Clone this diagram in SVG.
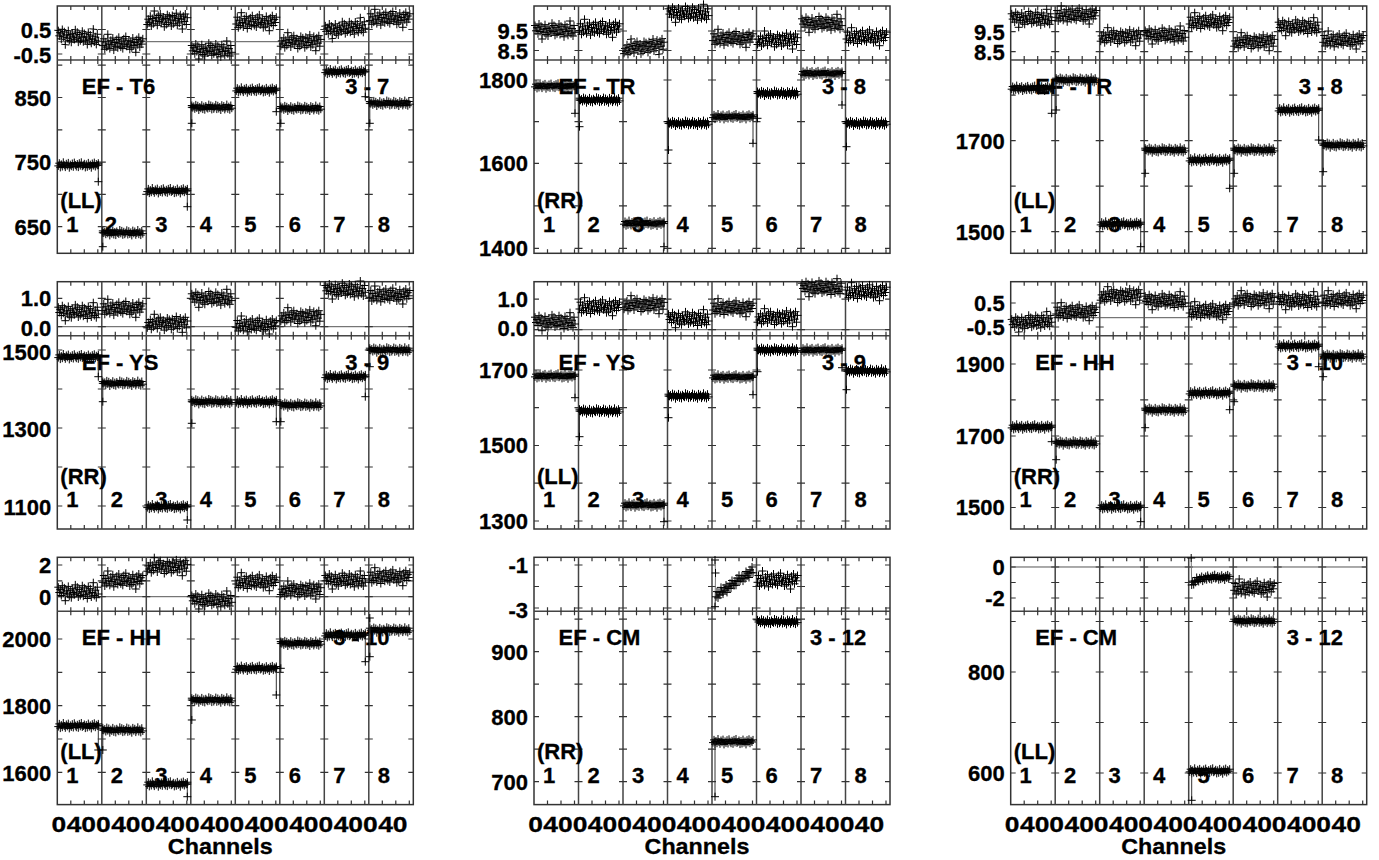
<svg xmlns="http://www.w3.org/2000/svg" width="1379" height="860" viewBox="0 0 1379 860">
<style>
.t{font-family:"Liberation Sans",Arial,sans-serif;font-weight:bold;font-size:22px;fill:#000;stroke:#000;stroke-width:0.3}
.r{text-anchor:end}
.m{text-anchor:middle}
.d{fill:none;stroke:#777;stroke-width:1;marker-start:url(#mk);marker-mid:url(#mk);marker-end:url(#mk)}
.e{fill:none;stroke:#333;stroke-width:1;marker-start:url(#mk);marker-mid:url(#mk);marker-end:url(#mk)}
.z{fill:none;stroke:#555;stroke-width:1}
.fr{fill:none;stroke:#333;stroke-width:1.5}
.dv{fill:none;stroke:#444;stroke-width:1.5}
.tk{fill:none;stroke:#333;stroke-width:1.2}
</style>
<defs>
<marker id="mk" markerUnits="userSpaceOnUse" markerWidth="9" markerHeight="9" refX="4" refY="4" overflow="visible"><path d="M0 4h8M4 0v8" stroke="#000" stroke-width="1" fill="none"/></marker>
<polyline id="A" class="d" points="1,0.9 2,-1.8 3,2.4 4,-0.6 5,1.5 6,-2.7 7,0.3 8,2.1 9,-1.2 10,0.6 11,-2.1 12,2.7 13,-0.3 14,1.2 15,-1.5 16,1.8 17,-2.4 18,0 19,1.5 20,-0.9 21,2.1 22,-1.8 23,0.6 24,-2.7 25,1.2 26,0.3 27,-1.2 28,2.4 29,-0.6 30,1.8 31,-2.1 32,0.9 33,-0.3 34,2.7 35,-1.5 36,0.6 37,-2.4 38,1.5 39,-0.9 40,0.3 41,-1.8"/>
<use id="B" href="#A" transform="matrix(-1 0 0 1 42 0)"/>
<polyline id="P" class="d" points="1,-4.5 2,0.8 3,-2.3 4,3.8 5,-6 6,1.5 7,-3.8 8,9 9,-0.8 10,2.3 11,-5.3 12,4.5 13,-1.5 14,6 15,-3 16,0.8 17,3 18,-6.8 19,1.5 20,-4.5 21,5.3 22,-2.3 23,3.8 24,0 25,-6 26,4.5 27,-3.8 28,3 29,-0.8 30,6.8 31,-5.3 32,1.5 33,-3 34,5.3 35,0.8 36,-9 37,3.8 38,-1.5 39,6 40,-4.5 41,2.3"/>
<use id="Q" href="#P" transform="matrix(-1 0 0 1 42 0)"/>
<use id="R" href="#P" transform="matrix(1 0 0 -1 0 0)"/>
<path id="yt" class="tk" d="M0 0h5M40.5 0h8M85 0h8M129.5 0h8M174 0h8M218.5 0h8M263 0h8M307.5 0h8M351 0h5"/>
<g id="fr">
<rect class="fr" x="0" y="0" width="356" height="247.3"/>
<path class="dv" d="M0 54H356M44.5 0V247.3M89 0V247.3M133.5 0V247.3M178 0V247.3M222.5 0V247.3M267 0V247.3M311.5 0V247.3"/>
<path class="tk" d="M13.5 0v4M13.5 50v8M13.5 243.3v4M27 0v4M27 50v8M27 243.3v4M40.5 0v4M40.5 50v8M40.5 243.3v4M58 0v4M58 50v8M58 243.3v4M71.5 0v4M71.5 50v8M71.5 243.3v4M85 0v4M85 50v8M85 243.3v4M102.5 0v4M102.5 50v8M102.5 243.3v4M116 0v4M116 50v8M116 243.3v4M129.5 0v4M129.5 50v8M129.5 243.3v4M147 0v4M147 50v8M147 243.3v4M160.5 0v4M160.5 50v8M160.5 243.3v4M174 0v4M174 50v8M174 243.3v4M191.5 0v4M191.5 50v8M191.5 243.3v4M205 0v4M205 50v8M205 243.3v4M218.5 0v4M218.5 50v8M218.5 243.3v4M236 0v4M236 50v8M236 243.3v4M249.5 0v4M249.5 50v8M249.5 243.3v4M263 0v4M263 50v8M263 243.3v4M280.5 0v4M280.5 50v8M280.5 243.3v4M294 0v4M294 50v8M294 243.3v4M307.5 0v4M307.5 50v8M307.5 243.3v4M325 0v4M325 50v8M325 243.3v4M338.5 0v4M338.5 50v8M338.5 243.3v4M352 0v4M352 50v8M352 243.3v4"/>
</g>
</defs>
<rect width="1379" height="860" fill="#fff"/>

<!-- Panel 1 -->
<g id="p1-ef-t6-ll" transform="translate(57.3,6)">
<use href="#fr"/>
<path class="z" d="M0 35.7H356"/>
<use href="#yt" y="23.5"/><use href="#yt" y="48"/>
<use href="#yt" y="59.2"/><use href="#yt" y="91.5"/><use href="#yt" y="123.8"/><use href="#yt" y="156.1"/><use href="#yt" y="188.4"/><use href="#yt" y="220.7"/>
<text class="t r" x="-6" y="32">0.5</text>
<text class="t r" x="-6" y="57">-0.5</text>
<text class="t r" x="-6" y="99.5">850</text>
<text class="t r" x="-6" y="164">750</text>
<text class="t r" x="-6" y="228.7">650</text>
<text class="t" x="24.5" y="88">EF - T6</text>
<text class="t" x="288" y="88">3 - 7</text>
<text class="t" x="3" y="202">(LL)</text>
<text class="t m" y="225.7"><tspan x="15">1</tspan><tspan x="53.5">2</tspan><tspan x="104">3</tspan><tspan x="148.5">4</tspan><tspan x="193">5</tspan><tspan x="237.5">6</tspan><tspan x="282">7</tspan><tspan x="326.5">8</tspan></text>
<g class="data">
<use href="#P" transform="translate(0,29) skewY(5)"/>
<use href="#Q" x="44.5" y="37.3"/>
<use href="#R" x="89" y="14"/>
<use href="#P" x="133.5" y="44"/>
<use href="#Q" x="178" y="15.7"/>
<use href="#R" x="222.5" y="35.7"/>
<use href="#P" transform="translate(267,24.5) skewY(-6)"/>
<use href="#Q" x="311.5" y="12.3"/>
<use href="#A" x="0" y="159"/>
<use href="#B" x="44.5" y="226.7"/>
<use href="#A" x="89" y="184.7"/>
<use href="#B" x="133.5" y="101.3"/>
<use href="#A" x="178" y="84"/>
<use href="#B" x="222.5" y="102.3"/>
<use href="#A" x="267" y="65.7"/>
<use href="#B" x="311.5" y="97.3"/>
<path class="e" d="M41 159V175.7M45.5 240.7V226.7M130 184.7V200.7M134.5 117.3V101.3M219 84V105.7M223.5 117.3V102.3M308 65.7V90.7M312.5 117.3V97.3"/>
</g>
</g>

<!-- Panel 2 -->
<g id="p2-ef-tr-rr" transform="translate(534,6)">
<use href="#fr"/>
<use href="#yt" y="25"/><use href="#yt" y="44.5"/>
<use href="#yt" y="74"/><use href="#yt" y="115.6"/><use href="#yt" y="157.3"/><use href="#yt" y="199.8"/><use href="#yt" y="242.3"/>
<text class="t r" x="-6" y="33">9.5</text>
<text class="t r" x="-6" y="52.5">8.5</text>
<text class="t r" x="-6" y="82">1800</text>
<text class="t r" x="-6" y="165.3">1600</text>
<text class="t r" x="-6" y="250.3">1400</text>
<text class="t" x="24.5" y="88">EF - TR</text>
<text class="t" x="288" y="88">3 - 8</text>
<text class="t" x="3" y="202">(RR)</text>
<text class="t m" y="225.7"><tspan x="15">1</tspan><tspan x="59.5">2</tspan><tspan x="104">3</tspan><tspan x="148.5">4</tspan><tspan x="193">5</tspan><tspan x="237.5">6</tspan><tspan x="282">7</tspan><tspan x="326.5">8</tspan></text>
<g class="data">
<use href="#P" x="0" y="24"/>
<use href="#Q" x="44.5" y="22.3"/>
<use href="#R" transform="translate(89,43) skewY(-6)"/>
<use href="#P" x="133.5" y="7.3"/>
<use href="#Q" x="178" y="32.3"/>
<use href="#R" x="222.5" y="34"/>
<use href="#P" x="267" y="17.3"/>
<use href="#Q" x="311.5" y="30.7"/>
<use href="#A" x="0" y="80"/>
<use href="#B" x="44.5" y="94"/>
<use href="#A" x="89" y="217.3"/>
<use href="#B" x="133.5" y="117.3"/>
<use href="#A" x="178" y="110.7"/>
<use href="#B" x="222.5" y="87.3"/>
<use href="#A" x="267" y="67.3"/>
<use href="#B" x="311.5" y="117.3"/>
<path class="e" d="M41 80V107.3M45.5 120.7V94M130 217.3V240.7M134.5 144V117.3M219 110.7V137.3M223.5 112.3V87.3M308 67.3V99M312.5 140.7V117.3"/>
</g>
</g>

<!-- Panel 3 -->
<g id="p3-ef-tr-ll" transform="translate(1010.7,6)">
<use href="#fr"/>
<use href="#yt" y="25.7"/><use href="#yt" y="45.7"/>
<use href="#yt" y="89.2"/><use href="#yt" y="134.7"/><use href="#yt" y="180.2"/><use href="#yt" y="225.7"/>
<text class="t r" x="-6" y="33.7">9.5</text>
<text class="t r" x="-6" y="53.7">8.5</text>
<text class="t r" x="-6" y="142.7">1700</text>
<text class="t r" x="-6" y="233.7">1500</text>
<text class="t" x="24.5" y="88">EF - TR</text>
<text class="t" x="288" y="88">3 - 8</text>
<text class="t" x="3" y="202">(LL)</text>
<text class="t m" y="225.7"><tspan x="15">1</tspan><tspan x="59.5">2</tspan><tspan x="104">3</tspan><tspan x="148.5">4</tspan><tspan x="193">5</tspan><tspan x="237.5">6</tspan><tspan x="282">7</tspan><tspan x="326.5">8</tspan></text>
<g class="data">
<use href="#P" x="0" y="12.3"/>
<use href="#Q" x="44.5" y="9"/>
<use href="#R" x="89" y="30.7"/>
<use href="#P" x="133.5" y="29"/>
<use href="#Q" x="178" y="15.7"/>
<use href="#R" x="222.5" y="35.7"/>
<use href="#P" x="267" y="20.7"/>
<use href="#Q" x="311.5" y="34"/>
<use href="#A" x="0" y="82.3"/>
<use href="#B" x="44.5" y="74"/>
<use href="#A" x="89" y="218"/>
<use href="#B" x="133.5" y="144"/>
<use href="#A" x="178" y="154"/>
<use href="#B" x="222.5" y="144"/>
<use href="#A" x="267" y="104"/>
<use href="#B" x="311.5" y="139"/>
<path class="e" d="M41 82.3V107.3M45.5 104V74M130 218V240.7M134.5 167.3V144M219 154V182.3M223.5 167.3V144M308 104V134M312.5 165.7V139"/>
</g>
</g>

<!-- Panel 4 -->
<g id="p4-ef-ys-rr" transform="translate(57.3,281.7)">
<use href="#fr"/>
<path class="z" d="M0 45H356"/>
<use href="#yt" y="16.6"/><use href="#yt" y="45"/>
<use href="#yt" y="68.3"/><use href="#yt" y="107.3"/><use href="#yt" y="146.3"/><use href="#yt" y="185.3"/><use href="#yt" y="224.3"/>
<text class="t r" x="-6" y="24.6">1.0</text>
<text class="t r" x="-6" y="54.6">0.0</text>
<text class="t r" x="-6" y="78">1500</text>
<text class="t r" x="-6" y="155.6">1300</text>
<text class="t r" x="-6" y="233">1100</text>
<text class="t" x="24.5" y="88">EF - YS</text>
<text class="t" x="288" y="88">3 - 9</text>
<text class="t" x="3" y="202">(RR)</text>
<text class="t m" y="225.7"><tspan x="15">1</tspan><tspan x="59.5">2</tspan><tspan x="104">3</tspan><tspan x="148.5">4</tspan><tspan x="193">5</tspan><tspan x="237.5">6</tspan><tspan x="282">7</tspan><tspan x="326.5">8</tspan></text>
<g class="data">
<use href="#P" x="0" y="30"/>
<use href="#Q" x="44.5" y="26.6"/>
<use href="#R" x="89" y="41.6"/>
<use href="#P" x="133.5" y="16.6"/>
<use href="#Q" x="178" y="43.3"/>
<use href="#R" x="222.5" y="35"/>
<use href="#P" x="267" y="8.3"/>
<use href="#Q" x="311.5" y="13.3"/>
<use href="#A" x="0" y="75"/>
<use href="#B" x="44.5" y="101.6"/>
<use href="#A" x="89" y="225"/>
<use href="#B" x="133.5" y="120"/>
<use href="#A" x="178" y="120"/>
<use href="#B" x="222.5" y="123.3"/>
<use href="#A" x="267" y="95"/>
<use href="#B" x="311.5" y="68.3"/>
<path class="e" d="M41 75V95M45.5 120V101.6M130 225V238.3M134.5 141.6V120M219 120V140M223.5 140V123.3M308 95V115M312.5 85V68.3"/>
</g>
</g>

<!-- Panel 5 -->
<g id="p5-ef-ys-ll" transform="translate(534,281.7)">
<use href="#fr"/>
<path class="z" d="M0 48H356"/>
<use href="#yt" y="17.5"/><use href="#yt" y="48"/>
<use href="#yt" y="88.3"/><use href="#yt" y="126"/><use href="#yt" y="163.8"/><use href="#yt" y="201.5"/><use href="#yt" y="239.3"/>
<text class="t r" x="-6" y="25">1.0</text>
<text class="t r" x="-6" y="54">0.0</text>
<text class="t r" x="-6" y="96.3">1700</text>
<text class="t r" x="-6" y="171.8">1500</text>
<text class="t r" x="-6" y="247.3">1300</text>
<text class="t" x="24.5" y="88">EF - YS</text>
<text class="t" x="288" y="88">3 - 9</text>
<text class="t" x="3" y="202">(LL)</text>
<text class="t m" y="225.7"><tspan x="15">1</tspan><tspan x="59.5">2</tspan><tspan x="104">3</tspan><tspan x="148.5">4</tspan><tspan x="193">5</tspan><tspan x="237.5">6</tspan><tspan x="282">7</tspan><tspan x="326.5">8</tspan></text>
<g class="data">
<use href="#P" x="0" y="40"/>
<use href="#Q" x="44.5" y="25"/>
<use href="#R" x="89" y="23"/>
<use href="#P" x="133.5" y="37"/>
<use href="#Q" x="178" y="26"/>
<use href="#R" x="222.5" y="36"/>
<use href="#P" x="267" y="6"/>
<use href="#Q" x="311.5" y="10"/>
<use href="#A" x="0" y="94.3"/>
<use href="#B" x="44.5" y="129.3"/>
<use href="#A" x="89" y="223.3"/>
<use href="#B" x="133.5" y="114.3"/>
<use href="#A" x="178" y="95.3"/>
<use href="#B" x="222.5" y="68.3"/>
<use href="#A" x="267" y="68.3"/>
<use href="#B" x="311.5" y="89.3"/>
<path class="e" d="M41 94.3V116M45.5 155V129.3M130 223.3V240M134.5 136V114.3M219 95.3V113M223.5 90V68.3M308 68.3V86M312.5 108V89.3"/>
</g>
</g>

<!-- Panel 6 -->
<g id="p6-ef-hh-rr" transform="translate(1010.7,281.7)">
<use href="#fr"/>
<path class="z" d="M0 36H356"/>
<use href="#yt" y="21.3"/><use href="#yt" y="45.3"/>
<use href="#yt" y="82.3"/><use href="#yt" y="118.1"/><use href="#yt" y="154.3"/><use href="#yt" y="190"/><use href="#yt" y="225.8"/>
<text class="t r" x="-6" y="29.3">0.5</text>
<text class="t r" x="-6" y="53.3">-0.5</text>
<text class="t r" x="-6" y="90.3">1900</text>
<text class="t r" x="-6" y="162.3">1700</text>
<text class="t r" x="-6" y="233.8">1500</text>
<text class="t" x="24.5" y="88">EF - HH</text>
<text class="t" x="276" y="88">3 - 10</text>
<text class="t" x="3" y="202">(RR)</text>
<text class="t m" y="225.7"><tspan x="15">1</tspan><tspan x="59.5">2</tspan><tspan x="104">3</tspan><tspan x="148.5">4</tspan><tspan x="193">5</tspan><tspan x="237.5">6</tspan><tspan x="282">7</tspan><tspan x="326.5">8</tspan></text>
<g class="data">
<use href="#P" transform="translate(0,42) skewY(-5)"/>
<use href="#Q" x="44.5" y="30"/>
<use href="#R" x="89" y="14"/>
<use href="#P" x="133.5" y="19"/>
<use href="#Q" x="178" y="29"/>
<use href="#R" x="222.5" y="18"/>
<use href="#P" x="267" y="19"/>
<use href="#Q" x="311.5" y="18"/>
<use href="#A" x="0" y="145.3"/>
<use href="#B" x="44.5" y="161.3"/>
<use href="#A" x="89" y="225.3"/>
<use href="#B" x="133.5" y="128.3"/>
<use href="#A" x="178" y="111.3"/>
<use href="#B" x="222.5" y="104.3"/>
<use href="#A" x="267" y="64.3"/>
<use href="#B" x="311.5" y="74.3"/>
<path class="e" d="M41 145.3V160M45.5 178V161.3M130 225.3V240M134.5 146V128.3M219 111.3V128M223.5 120V104.3M308 64.3V85M312.5 95V74.3"/>
</g>
</g>

<!-- Panel 7 -->
<g id="p7-ef-hh-ll" transform="translate(57.3,557.3)">
<use href="#fr"/>
<path class="z" d="M0 39.4H356"/>
<use href="#yt" y="7.7"/><use href="#yt" y="23.5"/><use href="#yt" y="39.4"/>
<use href="#yt" y="81.7"/><use href="#yt" y="115"/><use href="#yt" y="148.4"/><use href="#yt" y="181.7"/><use href="#yt" y="215"/>
<text class="t r" x="-6" y="15.7">2</text>
<text class="t r" x="-6" y="48">0</text>
<text class="t r" x="-6" y="89.7">2000</text>
<text class="t r" x="-6" y="156.4">1800</text>
<text class="t r" x="-6" y="224">1600</text>
<text class="t" x="24.5" y="88">EF - HH</text>
<text class="t" x="276" y="88">3 - 10</text>
<text class="t" x="3" y="202">(LL)</text>
<text class="t m" y="225.7"><tspan x="15">1</tspan><tspan x="59.5">2</tspan><tspan x="104">3</tspan><tspan x="148.5">4</tspan><tspan x="193">5</tspan><tspan x="237.5">6</tspan><tspan x="282">7</tspan><tspan x="326.5">8</tspan></text>
<g class="data">
<use href="#P" x="0" y="34.4"/>
<use href="#Q" x="44.5" y="22.7"/>
<use href="#R" x="89" y="9.4"/>
<use href="#P" x="133.5" y="42.7"/>
<use href="#Q" x="178" y="24.4"/>
<use href="#R" x="222.5" y="32.7"/>
<use href="#P" x="267" y="22.7"/>
<use href="#Q" x="311.5" y="19.4"/>
<use href="#A" x="0" y="168.4"/>
<use href="#B" x="44.5" y="172.7"/>
<use href="#A" x="89" y="226.7"/>
<use href="#B" x="133.5" y="142.7"/>
<use href="#A" x="178" y="111"/>
<use href="#B" x="222.5" y="86"/>
<use href="#A" x="267" y="77.7"/>
<use href="#B" x="311.5" y="72.7"/>
<path class="e" d="M41 168.4V192.7M45.5 192.7V172.7M130 226.7V239.4M134.5 162.7V142.7M219 111V137.7M223.5 111V86M308 77.7V104.4M312.5 99.4V60.7"/>
</g>
<g class="ticklabels">
<text class="t m" transform="translate(1.5,274.7) scale(1.2,1)">0</text><text class="t m" transform="translate(24,274.7) scale(1.2,1)">40</text>
<text class="t m" transform="translate(46,274.7) scale(1.2,1)">0</text><text class="t m" transform="translate(68.5,274.7) scale(1.2,1)">40</text>
<text class="t m" transform="translate(90.5,274.7) scale(1.2,1)">0</text><text class="t m" transform="translate(113,274.7) scale(1.2,1)">40</text>
<text class="t m" transform="translate(135,274.7) scale(1.2,1)">0</text><text class="t m" transform="translate(157.5,274.7) scale(1.2,1)">40</text>
<text class="t m" transform="translate(179.5,274.7) scale(1.2,1)">0</text><text class="t m" transform="translate(202,274.7) scale(1.2,1)">40</text>
<text class="t m" transform="translate(224,274.7) scale(1.2,1)">0</text><text class="t m" transform="translate(246.5,274.7) scale(1.2,1)">40</text>
<text class="t m" transform="translate(268.5,274.7) scale(1.2,1)">0</text><text class="t m" transform="translate(291,274.7) scale(1.2,1)">40</text>
<text class="t m" transform="translate(313,274.7) scale(1.2,1)">0</text><text class="t m" transform="translate(335.5,274.7) scale(1.2,1)">40</text>
</g>
<text class="t m" transform="translate(163,296.5) scale(1.06,1)">Channels</text>
</g>

<!-- Panel 8 -->
<g id="p8-ef-cm-rr" transform="translate(534,557.3)">
<use href="#fr"/>
<use href="#yt" y="7.7"/><use href="#yt" y="29.2"/><use href="#yt" y="50.7"/>
<use href="#yt" y="61.9"/><use href="#yt" y="94.4"/><use href="#yt" y="126.9"/><use href="#yt" y="159.4"/><use href="#yt" y="191.9"/><use href="#yt" y="224.4"/>
<text class="t r" x="-6" y="15.7">-1</text>
<text class="t r" x="-6" y="60.7">-3</text>
<text class="t r" x="-6" y="102.4">900</text>
<text class="t r" x="-6" y="167.4">800</text>
<text class="t r" x="-6" y="232.4">700</text>
<text class="t" x="24.5" y="88">EF - CM</text>
<text class="t" x="276" y="88">3 - 12</text>
<text class="t" x="3" y="202">(RR)</text>
<text class="t m" y="225.7"><tspan x="15">1</tspan><tspan x="59.5">2</tspan><tspan x="104">3</tspan><tspan x="148.5">4</tspan><tspan x="193">5</tspan><tspan x="237.5">6</tspan><tspan x="282">7</tspan><tspan x="326.5">8</tspan></text>
<g class="data">
<polyline class="d" points="181,2.7 181.5,15.7 181,49.4 182,39.5 183,34.3 184,40.6 185,35 186,37.8 187,30.1 188,34.4 189,36.8 190,30.6 191,32.9 192,27.7 193,35.1 194,29.4 195,31.2 196,26 197,30.9 198,23.2 199,26.5 200,28.3 201,23.7 202,28 203,20.8 204,24.1 205,18 206,23.8 207,21.6 208,18.4 209,23.8 210,18.1 211,21.4 212,14.2 213,18.6 214,15.9 215,20.2 216,12.5 217,15.4 218,9.7 219,15.5"/>
<use href="#Q" x="222.5" y="22.7"/>
<use href="#A" x="178" y="184.4"/>
<use href="#B" x="222.5" y="64.4"/>
<path class="e" d="M181 239.4V184.4"/>
</g>
<g class="ticklabels">
<text class="t m" transform="translate(1.5,274.7) scale(1.2,1)">0</text><text class="t m" transform="translate(24,274.7) scale(1.2,1)">40</text>
<text class="t m" transform="translate(46,274.7) scale(1.2,1)">0</text><text class="t m" transform="translate(68.5,274.7) scale(1.2,1)">40</text>
<text class="t m" transform="translate(90.5,274.7) scale(1.2,1)">0</text><text class="t m" transform="translate(113,274.7) scale(1.2,1)">40</text>
<text class="t m" transform="translate(135,274.7) scale(1.2,1)">0</text><text class="t m" transform="translate(157.5,274.7) scale(1.2,1)">40</text>
<text class="t m" transform="translate(179.5,274.7) scale(1.2,1)">0</text><text class="t m" transform="translate(202,274.7) scale(1.2,1)">40</text>
<text class="t m" transform="translate(224,274.7) scale(1.2,1)">0</text><text class="t m" transform="translate(246.5,274.7) scale(1.2,1)">40</text>
<text class="t m" transform="translate(268.5,274.7) scale(1.2,1)">0</text><text class="t m" transform="translate(291,274.7) scale(1.2,1)">40</text>
<text class="t m" transform="translate(313,274.7) scale(1.2,1)">0</text><text class="t m" transform="translate(335.5,274.7) scale(1.2,1)">40</text>
</g>
<text class="t m" transform="translate(163,296.5) scale(1.06,1)">Channels</text>
</g>

<!-- Panel 9 -->
<g id="p9-ef-cm-ll" transform="translate(1010.7,557.3)">
<use href="#fr"/>
<path class="z" d="M0 9.7H356"/>
<use href="#yt" y="9.7"/><use href="#yt" y="25.2"/><use href="#yt" y="40.7"/>
<use href="#yt" y="64.2"/><use href="#yt" y="114.7"/><use href="#yt" y="165.2"/><use href="#yt" y="215.7"/>
<text class="t r" x="-6" y="17.7">0</text>
<text class="t r" x="-6" y="48.7">-2</text>
<text class="t r" x="-6" y="122.7">800</text>
<text class="t r" x="-6" y="223.7">600</text>
<text class="t" x="24.5" y="88">EF - CM</text>
<text class="t" x="276" y="88">3 - 12</text>
<text class="t" x="3" y="202">(LL)</text>
<text class="t m" y="225.7"><tspan x="15">1</tspan><tspan x="59.5">2</tspan><tspan x="104">3</tspan><tspan x="148.5">4</tspan><tspan x="193">5</tspan><tspan x="237.5">6</tspan><tspan x="282">7</tspan><tspan x="326.5">8</tspan></text>
<g class="data">
<polyline class="d" points="180.5,0.7 181,27.7 182,23.9 183,27.3 184,23.5 185,25 186,20.2 187,22.8 188,24.2 189,20.6 190,22.1 191,19.2 192,23.8 193,20.6 194,22 195,19.2 196,22.4 197,18.1 198,20.4 199,21.8 200,19.4 201,22.3 202,18.4 203,20.8 204,17.4 205,21.3 206,20.4 207,18.8 208,22.4 209,19.4 210,21.8 211,17.9 212,20.9 213,19.7 214,22.7 215,18.5 216,20.6 217,17.6 218,21.5 219,19.1"/>
<use href="#Q" x="222.5" y="30.7"/>
<use href="#A" x="178" y="213.7"/>
<use href="#B" x="222.5" y="63.7"/>
<path class="e" d="M181 243V213.7"/>
</g>
<g class="ticklabels">
<text class="t m" transform="translate(1.5,274.7) scale(1.2,1)">0</text><text class="t m" transform="translate(24,274.7) scale(1.2,1)">40</text>
<text class="t m" transform="translate(46,274.7) scale(1.2,1)">0</text><text class="t m" transform="translate(68.5,274.7) scale(1.2,1)">40</text>
<text class="t m" transform="translate(90.5,274.7) scale(1.2,1)">0</text><text class="t m" transform="translate(113,274.7) scale(1.2,1)">40</text>
<text class="t m" transform="translate(135,274.7) scale(1.2,1)">0</text><text class="t m" transform="translate(157.5,274.7) scale(1.2,1)">40</text>
<text class="t m" transform="translate(179.5,274.7) scale(1.2,1)">0</text><text class="t m" transform="translate(202,274.7) scale(1.2,1)">40</text>
<text class="t m" transform="translate(224,274.7) scale(1.2,1)">0</text><text class="t m" transform="translate(246.5,274.7) scale(1.2,1)">40</text>
<text class="t m" transform="translate(268.5,274.7) scale(1.2,1)">0</text><text class="t m" transform="translate(291,274.7) scale(1.2,1)">40</text>
<text class="t m" transform="translate(313,274.7) scale(1.2,1)">0</text><text class="t m" transform="translate(335.5,274.7) scale(1.2,1)">40</text>
</g>
<text class="t m" transform="translate(163,296.5) scale(1.06,1)">Channels</text>
</g>
</svg>
